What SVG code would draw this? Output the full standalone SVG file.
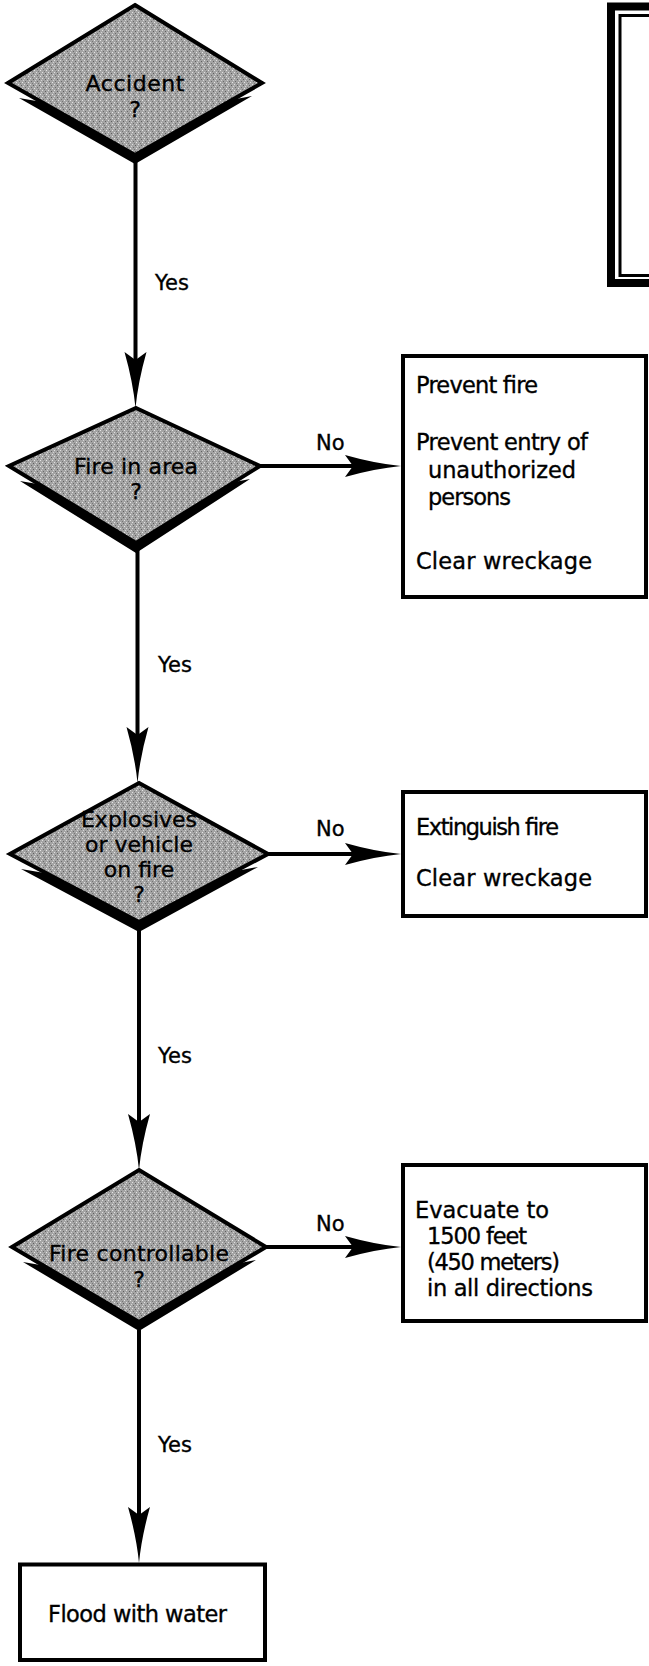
<svg xmlns="http://www.w3.org/2000/svg" width="649" height="1666" viewBox="0 0 649 1666">
<style>
.dia{fill:url(#stip);stroke:#000;stroke-width:4;stroke-linejoin:miter}
.shd{fill:#000}
.box{fill:#fff;stroke:#000;stroke-width:4}
.frame{fill:none;stroke:#000}
.t{font-family:"DejaVu Sans",sans-serif;font-size:22.5px;fill:#000;stroke:#000;stroke-width:0.35}
.dt{text-anchor:middle;font-size:22px}
.lbl{font-family:"DejaVu Sans",sans-serif;font-size:21px;fill:#000;stroke:#000;stroke-width:0.35}
.ln{stroke:#000;stroke-width:4;fill:none;marker-end:url(#ah)}
</style>
<defs>
<pattern id="stip" width="6" height="6" patternUnits="userSpaceOnUse">
<rect width="6" height="6" fill="#a4a4a4"/>
<rect x="0" y="0" width="1" height="1" fill="#e0e0e0"/>
<rect x="3" y="1" width="1" height="1" fill="#5f5f5f"/>
<rect x="1" y="3" width="1" height="1" fill="#6a6a6a"/>
<rect x="4" y="4" width="1" height="1" fill="#e6e6e6"/>
<rect x="5" y="2" width="1" height="1" fill="#d4d4d4"/>
<rect x="2" y="5" width="1" height="1" fill="#777"/>
</pattern>
<marker id="ah" markerUnits="userSpaceOnUse" markerWidth="56" markerHeight="24" viewBox="0 0 56 24" refX="8" refY="12" orient="auto" overflow="visible">
<path d="M0,1 L8,12 L0,23 Q30,14.5 56,12 Q30,9.5 0,1 Z" fill="#000"/>
</marker>
</defs>

<g id="legend-frame">
<rect class="frame" x="611" y="6.5" width="80" height="276.5" stroke-width="8"/>
<rect class="frame" x="620" y="15.5" width="60" height="260" stroke-width="3"/>
</g>

<g id="connectors">
<path class="ln" d="M135.5,160 V360"/>
<path class="ln" d="M137.5,548 V735"/>
<path class="ln" d="M139,928 V1122"/>
<path class="ln" d="M139,1330 V1515"/>
<path class="ln" d="M260,466 H353"/>
<path class="ln" d="M268,854 H353"/>
<path class="ln" d="M266,1247 H353"/>
<text class="lbl" x="155" y="290">Yes</text>
<text class="lbl" x="158" y="672">Yes</text>
<text class="lbl" x="158" y="1063">Yes</text>
<text class="lbl" x="158" y="1452">Yes</text>
<text class="lbl" x="316" y="450">No</text>
<text class="lbl" x="316" y="836">No</text>
<text class="lbl" x="316" y="1231">No</text>
</g>

<g id="d-accident">
<polygon class="shd" points="19,98 135,164 252,96 135,118"/>
<path class="dia" d="M135,5 L262,83 L135,155 L8,83 Z"/>
<text class="t dt" x="135" y="91" textLength="99" lengthAdjust="spacing">Accident</text>
<text class="t dt" x="135" y="117">?</text>
</g>

<g id="d-fire-area">
<polygon class="shd" points="20,481 136,553 250,479 136,501"/>
<path class="dia" d="M136,408 L260,466 L136,543 L9,466 Z"/>
<text class="t dt" x="136" y="474" textLength="124" lengthAdjust="spacing">Fire in area</text>
<text class="t dt" x="136" y="499">?</text>
</g>

<g id="d-explosives">
<polygon class="shd" points="21,869 139,932 258,867 139,889"/>
<path class="dia" d="M139,783 L268,854 L139,922 L10,854 Z"/>
<text class="t dt" x="139" y="827">Explosives</text>
<text class="t dt" x="139" y="852">or vehicle</text>
<text class="t dt" x="139" y="877">on fire</text>
<text class="t dt" x="139" y="902">?</text>
</g>

<g id="d-controllable">
<polygon class="shd" points="23,1262 139,1331 256,1260 139,1282"/>
<path class="dia" d="M139,1170 L266,1247 L139,1322 L12,1247 Z"/>
<text class="t dt" x="139" y="1261" textLength="180" lengthAdjust="spacing">Fire controllable</text>
<text class="t dt" x="139" y="1287">?</text>
</g>

<g id="b-prevent">
<rect class="box" x="403" y="356" width="243" height="241"/>
<text class="t" x="416" y="393" textLength="122" lengthAdjust="spacing">Prevent fire</text>
<text class="t" x="416" y="450" textLength="172" lengthAdjust="spacing">Prevent entry of</text>
<text class="t" x="428" y="478" textLength="148" lengthAdjust="spacing">unauthorized</text>
<text class="t" x="428" y="505" textLength="83" lengthAdjust="spacing">persons</text>
<text class="t" x="416" y="569" textLength="176" lengthAdjust="spacing">Clear wreckage</text>
</g>

<g id="b-extinguish">
<rect class="box" x="403" y="792" width="243" height="124"/>
<text class="t" x="416" y="835" textLength="143" lengthAdjust="spacing">Extinguish fire</text>
<text class="t" x="416" y="886" textLength="176" lengthAdjust="spacing">Clear wreckage</text>
</g>

<g id="b-evacuate">
<rect class="box" x="403" y="1165" width="243" height="156"/>
<text class="t" x="415" y="1218" textLength="134" lengthAdjust="spacing">Evacuate to</text>
<text class="t" x="427" y="1244" textLength="100" lengthAdjust="spacing">1500 feet</text>
<text class="t" x="427" y="1270" textLength="133" lengthAdjust="spacing">(450 meters)</text>
<text class="t" x="427" y="1296" textLength="166" lengthAdjust="spacing">in all directions</text>
</g>

<g id="b-flood">
<rect class="box" x="20" y="1564.5" width="245" height="95.5"/>
<text class="t" x="48" y="1622" textLength="179" lengthAdjust="spacing">Flood with water</text>
</g>
</svg>
